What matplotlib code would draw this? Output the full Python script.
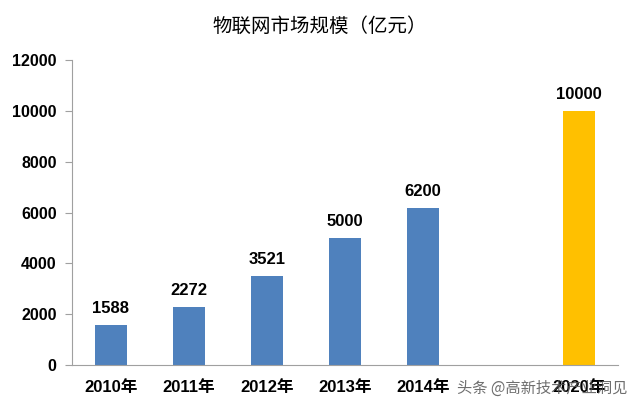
import numpy as np
import matplotlib
matplotlib.use('Agg')
import matplotlib.pyplot as plt

plt.rcParams['font.family'] = ['Liberation Sans', 'Noto Sans CJK SC', 'DejaVu Sans']

# 物联网市场规模（亿元）
labels = ['2010年', '2011年', '2012年', '2013年', '2014年', '', '2020年']
values = [1588, 2272, 3521, 5000, 6200, np.nan, 10000]
colors = ['#4F81BD', '#4F81BD', '#4F81BD', '#4F81BD', '#4F81BD', '#4F81BD', '#FFC000']

fig = plt.figure(figsize=(6.4, 4.12), dpi=100)
ax = fig.add_axes([0.1125, 0.114, 0.853, 0.740])

x = np.arange(len(labels))
bars = ax.bar(x, np.nan_to_num(values), width=0.41, color=colors)

for xi, v in zip(x, values):
    if not np.isnan(v):
        ax.text(xi, v + 350, str(v), ha='center', va='bottom',
                fontsize=12, fontweight='bold', color='black')

ax.set_xlim(-0.5, len(labels) - 0.5)
ax.set_ylim(0, 12000)
ax.set_yticks(range(0, 12001, 2000))
ax.set_xticks(x)
ax.set_xticklabels(labels, fontsize=12, fontweight='bold')
for t in ax.get_yticklabels():
    t.set_fontsize(11.5)
    t.set_fontweight('bold')

for s in ['top', 'right']:
    ax.spines[s].set_visible(False)
ax.spines['left'].set_color('#A0A0A0')
ax.spines['bottom'].set_color('#A0A0A0')
ax.tick_params(axis='x', length=0, pad=11)
ax.tick_params(axis='y', length=5, color='#A0A0A0', pad=6)

fig.text(0.5, 0.935, '物联网市场规模（亿元）', ha='center', va='center',
         fontsize=14, family=['Noto Sans CJK SC', 'DejaVu Sans'])

# watermark
fig.text(0.98, 0.058, '头条 @高新技术产业洞见', ha='right', va='center',
         fontsize=11, color='#555555', alpha=0.85,
         family=['Noto Sans CJK SC', 'DejaVu Sans'])

fig.savefig('out.png', dpi=100)
